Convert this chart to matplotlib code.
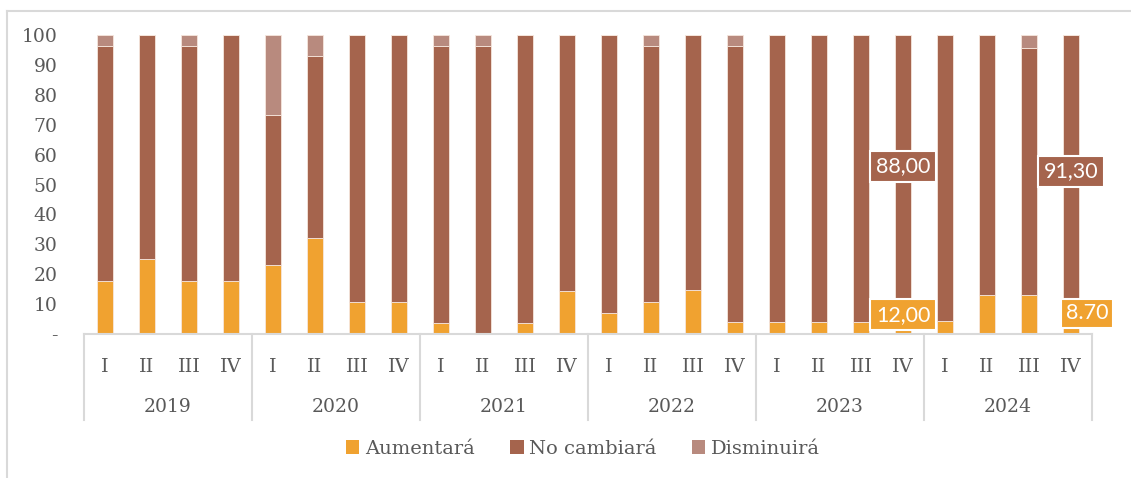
import matplotlib
matplotlib.use("Agg")
import matplotlib.pyplot as plt
import matplotlib.transforms as mtransforms
from matplotlib.patches import Patch
import numpy as np

years = ["2019", "2020", "2021", "2022", "2023", "2024"]
quarters = ["I", "II", "III", "IV"]

aumentara = [17.86, 25.00, 17.86, 17.86,
             23.08, 32.14, 10.71, 10.71,
             3.57, 0.00, 3.57, 14.29,
             7.14, 10.71, 14.81, 3.85,
             4.00, 4.00, 4.00, 12.00,
             4.35, 13.04, 13.04, 8.70]
no_cambiara = [78.57, 75.00, 78.57, 82.14,
               50.00, 60.71, 89.29, 89.29,
               92.86, 96.43, 96.43, 85.71,
               92.86, 85.71, 85.19, 92.31,
               96.00, 96.00, 96.00, 88.00,
               95.65, 86.96, 82.61, 91.30]
disminuira = [3.57, 0.00, 3.57, 0.00,
              26.92, 7.14, 0.00, 0.00,
              3.57, 3.57, 0.00, 0.00,
              0.00, 3.57, 0.00, 3.85,
              0.00, 0.00, 0.00, 0.00,
              0.00, 0.00, 4.35, 0.00]
series_names = ["Aumentará", "No cambiará", "Disminuirá"]
colors = ["#F0A230", "#A5644D", "#B88A7E"]

# labelled points (indices)
labelled = [19, 23]

W, H = 1131, 478
fig = plt.figure(figsize=(W / 100, H / 100), dpi=100)
ax = fig.add_axes([84 / W, 1 - 334 / H, (1092 - 84) / W, (334 - 35) / H])

serif = "DejaVu Serif"
gray = "#595959"
line_gray = "#D9D9D9"

n = len(aumentara)
x = np.arange(n)
a = np.array(aumentara)
nc = np.array(no_cambiara)
d = np.array(disminuira)
bw = 0.4
ax.bar(x, a, bw, color=colors[0], edgecolor="#F6E6DC", linewidth=0.6)
ax.bar(x, nc, bw, bottom=a, color=colors[1], edgecolor="#F6E6DC", linewidth=0.6)
ax.bar(x, d, bw, bottom=a + nc, color=colors[2], edgecolor="#F6E6DC", linewidth=0.6)

ax.set_xlim(-0.5, n - 0.5)
ax.set_ylim(0, 100)
for s in ["left", "right", "top"]:
    ax.spines[s].set_visible(False)
ax.spines["bottom"].set_color(line_gray)
ax.spines["bottom"].set_linewidth(1.5)

fs = 13.5
yt = np.arange(0, 101, 10)
ax.set_yticks(yt)
ax.set_yticklabels(["-"] + [str(v) for v in yt[1:]], fontfamily=serif,
                   fontsize=fs, color=gray)
ax.tick_params(axis="y", length=0, pad=19)

ax.set_xticks(x)
ax.set_xticklabels(quarters * len(years), fontfamily=serif, fontsize=14,
                   color=gray)
ax.tick_params(axis="x", length=0, pad=17)

trans = mtransforms.blended_transform_factory(ax.transData, ax.transAxes)
axis_h = (334 - 35)
for k in range(len(years) + 1):
    xs = k * 4 - 0.5
    ax.plot([xs, xs], [0, -(420 - 334) / axis_h], transform=trans,
            color=line_gray, lw=1.5, clip_on=False)
for k, yname in enumerate(years):
    ax.text(k * 4 + 1.5, -(407 - 334) / axis_h, yname, transform=trans,
            ha="center", va="center", fontfamily=serif, fontsize=fs,
            color=gray)

# data labels
box_font = "Lato"
box_fs = 15.5
for i in labelled:
    ax.annotate(f"{nc[i]:.2f}".replace(".", ","), xy=(i, a[i] + nc[i] / 2),
                ha="center", va="center", color="white", fontsize=box_fs,
                fontfamily=box_font,
                bbox=dict(boxstyle="square,pad=0.25", fc=colors[1], ec="white",
                          lw=1.5))
ax.annotate("12,00", xy=(19, a[19] / 2), xytext=(0, 1),
            textcoords="offset points", ha="center", va="center",
            color="white", fontsize=box_fs, fontfamily=box_font,
            bbox=dict(boxstyle="square,pad=0.25", fc=colors[0], ec="white", lw=1.5))
ax.annotate("8.70", xy=(23, a[23] / 2), xytext=(11.5, 5.5),
            textcoords="offset points", ha="center", va="center",
            color="white", fontsize=box_fs, fontfamily=box_font,
            bbox=dict(boxstyle="square,pad=0.2", fc=colors[0], ec="white", lw=1.5))

handles = [Patch(facecolor=c, edgecolor="none") for c in colors]
fig.legend(handles, series_names, loc="center", ncol=3,
           bbox_to_anchor=(583 / W, 1 - 449 / H), frameon=False,
           prop={"family": serif, "size": 14}, labelcolor=gray,
           handlelength=0.7, handleheight=0.7, handletextpad=0.3,
           columnspacing=1.8)

# chart area border (left and top)
fig.add_artist(plt.Line2D([7 / W, 7 / W], [0, 1 - 11 / H], transform=fig.transFigure,
                          color=line_gray, lw=1.5))
fig.add_artist(plt.Line2D([7 / W, 1], [1 - 11 / H, 1 - 11 / H],
                          transform=fig.transFigure, color=line_gray, lw=1.5))

fig.savefig("out.png", dpi=100)
